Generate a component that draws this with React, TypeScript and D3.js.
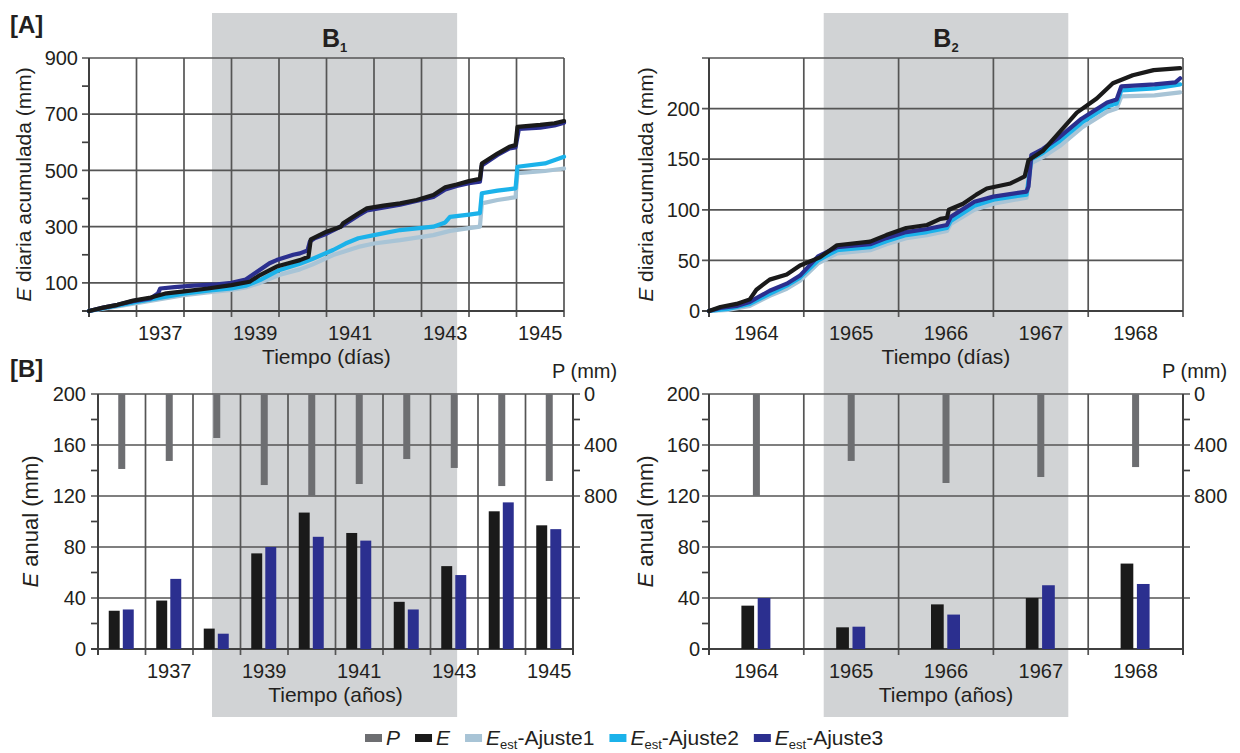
import React, { useEffect, useRef } from 'react';
import * as d3 from 'd3';

const W = 1240;
const H = 753;
const FONT = '"Liberation Sans", Arial, Helvetica, sans-serif';

// ---------- colours ----------
const C_P = '#6d6e71';
const C_E = '#1a1a1a';
const C_A1 = '#a8c4d6';
const C_A2 = '#1bb2ea';
const C_A3 = '#2b2f8f';
const C_SHADE = '#d1d3d5';
const C_GRID = '#555555';
const C_AXIS = '#404040';

// ---------- periods B1 / B2 (years) ----------
const B1_PERIOD = [1938.59, 1943.75];
const B2_PERIOD = [1965.21, 1967.79];

// ---------- [A] cumulative daily E, panel 1 (1936-1945) ----------
const A1_E: [number, number][] = [
  [1936.0, 0], [1936.3, 12], [1936.6, 22], [1936.93, 37], [1937.3, 48], [1937.63, 63], [1938.0, 70],
  [1938.5, 80], [1939.0, 92], [1939.38, 104], [1939.6, 128], [1939.95, 158], [1940.2, 170],
  [1940.44, 181], [1940.62, 193], [1940.67, 255], [1941.0, 282], [1941.3, 300], [1941.35, 312],
  [1941.67, 347], [1941.85, 365], [1942.2, 375], [1942.55, 383], [1942.9, 395], [1943.25, 413],
  [1943.5, 440], [1943.74, 450], [1944.0, 462], [1944.23, 470], [1944.27, 525], [1944.6, 560],
  [1944.85, 584], [1944.98, 590], [1945.02, 655], [1945.5, 662], [1945.8, 668], [1946.0, 676],
];
const A1_AJ3: [number, number][] = [
  [1936.0, 0], [1936.3, 12], [1936.6, 22], [1936.93, 35], [1937.3, 45], [1937.45, 62], [1937.5, 80],
  [1937.8, 85], [1938.2, 90], [1938.7, 95], [1939.0, 100], [1939.3, 112], [1939.5, 135],
  [1939.8, 170], [1939.95, 181], [1940.3, 200], [1940.44, 205], [1940.6, 215], [1940.65, 247],
  [1940.75, 259], [1941.0, 275], [1941.35, 305], [1941.67, 340], [1941.85, 358], [1942.55, 378],
  [1943.25, 406], [1943.5, 432], [1943.74, 445], [1944.0, 455], [1944.23, 460], [1944.27, 518],
  [1944.6, 555], [1944.85, 578], [1944.98, 582], [1945.05, 648], [1945.5, 652], [1945.8, 660],
  [1946.0, 670],
];
const A1_AJ2: [number, number][] = [
  [1936.0, 0], [1936.5, 16], [1937.0, 32], [1937.5, 47], [1938.0, 62], [1938.5, 72], [1939.0, 80],
  [1939.3, 90], [1939.6, 110], [1940.0, 145], [1940.44, 168], [1940.7, 185], [1941.14, 217],
  [1941.4, 240], [1941.67, 259], [1942.0, 270], [1942.55, 288], [1943.25, 300], [1943.5, 315],
  [1943.6, 335], [1944.0, 343], [1944.23, 348], [1944.27, 419], [1944.6, 428], [1944.98, 436],
  [1945.02, 513], [1945.6, 525], [1946.0, 549],
];
const A1_AJ1: [number, number][] = [
  [1936.0, 0], [1936.5, 14], [1937.0, 28], [1937.5, 42], [1938.0, 56], [1938.5, 66], [1939.0, 75],
  [1939.3, 84], [1939.6, 100], [1940.0, 128], [1940.44, 148], [1940.7, 165], [1941.14, 199],
  [1941.67, 228], [1942.0, 240], [1942.55, 252], [1943.25, 270], [1943.6, 285], [1944.0, 295],
  [1944.23, 300], [1944.27, 383], [1944.6, 395], [1944.98, 405], [1945.02, 490], [1945.6, 498],
  [1946.0, 507],
];

// ---------- [A] cumulative daily E, panel 2 (1964-1968) ----------
const A2_E: [number, number][] = [
  [1964.0, 0], [1964.12, 4], [1964.29, 7], [1964.43, 11.5], [1964.5, 21], [1964.64, 31],
  [1964.82, 36], [1964.96, 45], [1965.17, 53], [1965.35, 65], [1965.7, 68.5], [1965.87, 75],
  [1966.08, 82], [1966.3, 85], [1966.44, 91], [1966.51, 92], [1966.53, 100], [1966.68, 106],
  [1966.82, 115], [1966.93, 121], [1967.18, 126], [1967.33, 133], [1967.37, 149], [1967.52, 158],
  [1967.7, 177], [1967.88, 196], [1968.09, 210], [1968.26, 225], [1968.47, 233], [1968.69, 238],
  [1968.97, 240],
];
const A2_AJ3: [number, number][] = [
  [1964.0, 0], [1964.12, 3], [1964.29, 5], [1964.43, 9], [1964.64, 20], [1964.82, 27], [1964.96, 35],
  [1965.15, 54], [1965.35, 63], [1965.7, 66], [1965.87, 72], [1966.08, 78], [1966.3, 81],
  [1966.51, 85], [1966.55, 93], [1966.8, 108], [1967.0, 113], [1967.35, 118], [1967.37, 123],
  [1967.4, 154], [1967.52, 160], [1967.7, 172], [1967.93, 190], [1968.2, 206], [1968.3, 209],
  [1968.35, 222], [1968.7, 224], [1968.92, 226], [1968.97, 230],
];
const A2_AJ2: [number, number][] = [
  [1964.0, 0], [1964.2, 2], [1964.43, 7], [1964.64, 17], [1964.82, 25], [1964.96, 33], [1965.15, 50],
  [1965.35, 60], [1965.7, 63], [1965.87, 69], [1966.08, 75], [1966.3, 78], [1966.51, 82],
  [1966.55, 89], [1966.8, 104], [1967.0, 110], [1967.35, 115], [1967.4, 150], [1967.52, 156],
  [1967.7, 168], [1967.93, 186], [1968.2, 202], [1968.3, 205], [1968.35, 218], [1968.7, 220],
  [1968.97, 224],
];
const A2_AJ1: [number, number][] = [
  [1964.0, 0], [1964.2, 1], [1964.43, 5], [1964.64, 15], [1964.82, 22], [1964.96, 30], [1965.15, 47],
  [1965.35, 57], [1965.7, 60], [1965.87, 66], [1966.08, 72], [1966.3, 75], [1966.51, 79],
  [1966.55, 86], [1966.8, 100], [1967.0, 106], [1967.35, 112], [1967.4, 146], [1967.52, 152],
  [1967.7, 163], [1967.93, 181], [1968.2, 197], [1968.3, 200], [1968.35, 212], [1968.7, 213],
  [1968.97, 216],
];

// ---------- [B] annual values ----------
const YEARS_B1 = [1936, 1937, 1938, 1939, 1940, 1941, 1942, 1943, 1944, 1945];
const P_B1 = [588, 525, 345, 714, 800, 706, 510, 580, 722, 682];
const E_B1 = [30, 38, 16, 75, 107, 91, 37, 65, 108, 97];
const AJ3_B1 = [31, 55, 12, 80, 88, 85, 31, 58, 115, 94];

const YEARS_B2 = [1964, 1965, 1966, 1967, 1968];
const P_B2 = [800, 525, 698, 651, 573];
const E_B2 = [34, 17, 35, 40, 67];
const AJ3_B2 = [40, 17.5, 27, 50, 51];

// ---------- tick lists ----------
const YT_A1_MAJOR = [100, 300, 500, 700, 900];
const YT_A1_MINOR = [200, 400, 600, 800];
const YT_A2_MAJOR = [0, 50, 100, 150, 200];
const YT_A2_GRID = [50, 100, 150, 200, 250];
const YT_B_MAJOR = [0, 40, 80, 120, 160, 200];
const YT_B_GRID = [40, 80, 120, 160, 200];
const YT_B_MINOR = [20, 60, 100, 140, 180];
const PT_MAJOR = [0, 400, 800];
const PT_MINOR = [200, 600];
const XL_A1 = [1937, 1939, 1941, 1943, 1945];
const XL_A2 = [1964, 1965, 1966, 1967, 1968];

const LEGEND = [
  { key: 'P', color: C_P },
  { key: 'E', color: C_E },
  { key: 'Ajuste1', color: C_A1 },
  { key: 'Ajuste2', color: C_A2 },
  { key: 'Ajuste3', color: C_A3 },
];

const TICK = 7;
const TXT = '#231f20';

type Sel = d3.Selection<any, any, any, any>;

function vGrid(g: Sel, x: any, years: number[], yTop: number, yBot: number) {
  g.selectAll(null).data(years).join('line')
    .attr('x1', (d: number) => x(d)).attr('x2', (d: number) => x(d))
    .attr('y1', yTop).attr('y2', yBot + 6)
    .attr('stroke', C_GRID).attr('stroke-width', 1.7);
}

function yAxisTitle(g: Sel, xb: number, yc: number, rest: string, size: number) {
  const t = g.append('text')
    .attr('transform', `translate(${xb},${yc}) rotate(-90)`)
    .attr('text-anchor', 'middle').attr('font-size', size).attr('fill', TXT);
  t.append('tspan').attr('font-style', 'italic').text('E');
  t.append('tspan').text(rest);
}

function linePanel(root: Sel, o: any) {
  const g = root.append('g');
  const x = d3.scaleLinear().domain(o.xDomain).range([o.left, o.right]);
  const y = d3.scaleLinear().domain(o.yDomain).range([o.bottom, o.top]);
  const years = d3.range(o.xDomain[0], o.xDomain[1] + 1);
  vGrid(g, x, years, y(o.yDomain[1]), y(o.yDomain[0]));
  g.selectAll(null).data(o.yGrid).join('line')
    .attr('x1', x(o.xDomain[0]) - TICK).attr('x2', x(o.xDomain[1]))
    .attr('y1', (d: number) => y(d)).attr('y2', (d: number) => y(d))
    .attr('stroke', C_GRID).attr('stroke-width', 1.7);
  g.selectAll(null).data(o.yMinor).join('line')
    .attr('x1', x(o.xDomain[0]) - TICK).attr('x2', x(o.xDomain[0]))
    .attr('y1', (d: number) => y(d)).attr('y2', (d: number) => y(d))
    .attr('stroke', C_AXIS).attr('stroke-width', 1.7);
  g.append('line').attr('x1', x(o.xDomain[0]) - TICK).attr('x2', x(o.xDomain[1]))
    .attr('y1', y(o.yDomain[0])).attr('y2', y(o.yDomain[0]))
    .attr('stroke', C_AXIS).attr('stroke-width', 2);
  g.append('line').attr('x1', x(o.xDomain[0])).attr('x2', x(o.xDomain[0]))
    .attr('y1', y(o.yDomain[1])).attr('y2', y(o.yDomain[0]) + 6)
    .attr('stroke', C_AXIS).attr('stroke-width', 2);
  g.selectAll(null).data(o.yLabels).join('text')
    .attr('x', x(o.xDomain[0]) - o.labelGap).attr('y', (d: number) => y(d))
    .attr('dy', '0.36em').attr('text-anchor', 'end').attr('font-size', 20).attr('fill', TXT)
    .text((d: number) => String(d));
  g.selectAll(null).data(o.xLabels).join('text')
    .attr('x', (d: number) => x(d + 0.5)).attr('y', 340)
    .attr('text-anchor', 'middle').attr('font-size', 20).attr('fill', TXT)
    .text((d: number) => String(d));
  g.append('text').attr('x', (o.left + o.right) / 2).attr('y', 364)
    .attr('text-anchor', 'middle').attr('font-size', 21).attr('fill', TXT)
    .text('Tiempo (días)');
  yAxisTitle(g, o.titleX, (o.top + o.bottom) / 2, ' diaria acumulada (mm)', 21);
  const line = d3.line<[number, number]>().x(d => x(d[0])).y(d => y(d[1]));
  o.series.forEach((s: any) => {
    g.append('path').attr('d', line(s.data) as string)
      .attr('fill', 'none').attr('stroke', s.color).attr('stroke-width', 4.2)
      .attr('stroke-linejoin', 'round').attr('stroke-linecap', 'round');
  });
}

function barPanel(root: Sel, o: any) {
  const g = root.append('g');
  const x = d3.scaleLinear().domain(o.xDomain).range([o.left, o.right]);
  const y = d3.scaleLinear().domain([0, 200]).range([o.bottom, o.top]);
  const p = d3.scaleLinear().domain([0, 2000]).range([o.top, o.bottom]);
  const years = d3.range(o.xDomain[0], o.xDomain[1] + 1);
  vGrid(g, x, years, o.top, o.bottom);
  g.selectAll(null).data(YT_B_GRID).join('line')
    .attr('x1', x(o.xDomain[0]) - TICK).attr('x2', x(o.xDomain[1]) + TICK)
    .attr('y1', (d: number) => y(d)).attr('y2', (d: number) => y(d))
    .attr('stroke', C_GRID).attr('stroke-width', 1.7);
  g.selectAll(null).data(YT_B_MINOR).join('line')
    .attr('x1', x(o.xDomain[0]) - TICK).attr('x2', x(o.xDomain[0]))
    .attr('y1', (d: number) => y(d)).attr('y2', (d: number) => y(d))
    .attr('stroke', C_AXIS).attr('stroke-width', 1.7);
  g.selectAll(null).data(PT_MINOR).join('line')
    .attr('x1', x(o.xDomain[1])).attr('x2', x(o.xDomain[1]) + TICK)
    .attr('y1', (d: number) => p(d)).attr('y2', (d: number) => p(d))
    .attr('stroke', C_AXIS).attr('stroke-width', 1.7);
  g.append('line').attr('x1', x(o.xDomain[0]) - TICK).attr('x2', x(o.xDomain[1]))
    .attr('y1', y(0)).attr('y2', y(0)).attr('stroke', C_AXIS).attr('stroke-width', 2);
  g.append('line').attr('x1', x(o.xDomain[0])).attr('x2', x(o.xDomain[0]))
    .attr('y1', o.top).attr('y2', o.bottom + 6).attr('stroke', C_AXIS).attr('stroke-width', 2);
  g.append('line').attr('x1', x(o.xDomain[1])).attr('x2', x(o.xDomain[1]))
    .attr('y1', o.top).attr('y2', o.bottom + 6).attr('stroke', C_AXIS).attr('stroke-width', 2);

  const band = d3.scaleBand<string>().domain(['E', 'A3']).range(o.barRange).paddingInner(0.22);
  const rows = o.years.map((yr: number, i: number) => ({ yr, P: o.P[i], E: o.E[i], A3: o.A3[i] }));
  g.selectAll(null).data(rows).join('rect')
    .attr('x', (d: any) => x(d.yr + 0.5) - 3.5).attr('width', 7)
    .attr('y', p(0)).attr('height', (d: any) => p(d.P) - p(0)).attr('fill', C_P);
  g.selectAll(null).data(rows).join('rect')
    .attr('x', (d: any) => x(d.yr + 0.5) + (band('E') as number)).attr('width', band.bandwidth())
    .attr('y', (d: any) => y(d.E)).attr('height', (d: any) => y(0) - y(d.E)).attr('fill', C_E);
  g.selectAll(null).data(rows).join('rect')
    .attr('x', (d: any) => x(d.yr + 0.5) + (band('A3') as number)).attr('width', band.bandwidth())
    .attr('y', (d: any) => y(d.A3)).attr('height', (d: any) => y(0) - y(d.A3)).attr('fill', C_A3);

  g.selectAll(null).data(YT_B_MAJOR).join('text')
    .attr('x', x(o.xDomain[0]) - o.labelGap).attr('y', (d: number) => y(d)).attr('dy', '0.36em')
    .attr('text-anchor', 'end').attr('font-size', 20).attr('fill', TXT).text((d: number) => String(d));
  g.selectAll(null).data(PT_MAJOR).join('text')
    .attr('x', x(o.xDomain[1]) + 11).attr('y', (d: number) => p(d)).attr('dy', '0.36em')
    .attr('text-anchor', 'start').attr('font-size', 20).attr('fill', TXT).text((d: number) => String(d));
  g.append('text').attr('x', x(o.xDomain[1]) - 21).attr('y', 378).attr('font-size', 20)
    .attr('fill', TXT).text('P (mm)');
  g.selectAll(null).data(o.xLabels).join('text')
    .attr('x', (d: number) => x(d + 0.5)).attr('y', 678).attr('text-anchor', 'middle')
    .attr('font-size', 20).attr('fill', TXT).text((d: number) => String(d));
  g.append('text').attr('x', (o.left + o.right) / 2).attr('y', 702).attr('text-anchor', 'middle')
    .attr('font-size', 21).attr('fill', TXT).text('Tiempo (años)');
  yAxisTitle(g, o.titleX, (o.top + o.bottom) / 2, ' anual (mm)', 22);
}

function draw(svg: Sel) {
  svg.selectAll('*').remove();
  svg.append('rect').attr('width', W).attr('height', H).attr('fill', '#fff');

  const xA1 = d3.scaleLinear().domain([1936, 1946]).range([89, 564]);
  const xA2 = d3.scaleLinear().domain([1964, 1969]).range([709, 1183]);
  const shades = [
    { x0: xA1(B1_PERIOD[0]), x1: xA1(B1_PERIOD[1]), sub: '1' },
    { x0: xA2(B2_PERIOD[0]), x1: xA2(B2_PERIOD[1]), sub: '2' },
  ];
  svg.selectAll(null).data(shades).join('rect')
    .attr('x', d => d.x0).attr('width', d => d.x1 - d.x0)
    .attr('y', 13).attr('height', 704).attr('fill', C_SHADE);
  shades.forEach(s => {
    const t = svg.append('text').attr('x', (s.x0 + s.x1) / 2).attr('y', 47)
      .attr('text-anchor', 'middle').attr('font-weight', 'bold').attr('fill', TXT);
    t.append('tspan').attr('font-size', 25).text('B');
    t.append('tspan').attr('font-size', 13).attr('dy', 5).text(s.sub);
  });

  svg.append('text').attr('x', 10).attr('y', 33).attr('font-size', 24).attr('font-weight', 'bold')
    .attr('fill', TXT).text('[A]');
  svg.append('text').attr('x', 10).attr('y', 377).attr('font-size', 24).attr('font-weight', 'bold')
    .attr('fill', TXT).text('[B]');

  linePanel(svg, {
    xDomain: [1936, 1946], left: 89, right: 564, top: 58, bottom: 311, yDomain: [0, 900],
    yGrid: YT_A1_MAJOR, yMinor: YT_A1_MINOR, yLabels: YT_A1_MAJOR, labelGap: 11, xLabels: XL_A1,
    titleX: 31,
    series: [
      { data: A1_AJ1, color: C_A1 }, { data: A1_AJ2, color: C_A2 },
      { data: A1_AJ3, color: C_A3 }, { data: A1_E, color: C_E },
    ],
  });
  linePanel(svg, {
    xDomain: [1964, 1969], left: 709, right: 1183, top: 58, bottom: 311, yDomain: [0, 250],
    yGrid: YT_A2_GRID, yMinor: [], yLabels: YT_A2_MAJOR, labelGap: 9, xLabels: XL_A2,
    titleX: 653,
    series: [
      { data: A2_AJ1, color: C_A1 }, { data: A2_AJ2, color: C_A2 },
      { data: A2_AJ3, color: C_A3 }, { data: A2_E, color: C_E },
    ],
  });
  barPanel(svg, {
    xDomain: [1936, 1946], left: 98, right: 573, top: 394, bottom: 649, labelGap: 12,
    years: YEARS_B1, P: P_B1, E: E_B1, A3: AJ3_B1, xLabels: XL_A1, barRange: [-13, 12], titleX: 38,
  });
  barPanel(svg, {
    xDomain: [1964, 1969], left: 709, right: 1183, top: 394, bottom: 649, labelGap: 9,
    years: YEARS_B2, P: P_B2, E: E_B2, A3: AJ3_B2, xLabels: XL_A2, barRange: [-15, 14], titleX: 653,
  });

  const lg = svg.append('g');
  let lx = 365;
  const ly = 738;
  LEGEND.forEach(item => {
    lg.append('rect').attr('x', lx).attr('y', ly - 4).attr('width', 17).attr('height', 8).attr('fill', item.color);
    const t = lg.append('text').attr('x', lx + 21).attr('y', ly + 7).attr('font-size', 21).attr('fill', TXT);
    if (item.key === 'P' || item.key === 'E') {
      t.append('tspan').attr('font-style', 'italic').text(item.key);
    } else {
      t.append('tspan').attr('font-style', 'italic').text('E');
      t.append('tspan').attr('font-size', 13).attr('dy', 4).text('est');
      t.append('tspan').attr('dy', -4).text('-' + item.key);
    }
    const w = (t.node() as SVGTextElement).getComputedTextLength();
    lx = lx + 21 + w + 15;
  });
}

export default function App() {
  const ref = useRef<SVGSVGElement>(null);
  useEffect(() => {
    if (ref.current) draw(d3.select(ref.current));
  }, []);
  return (
    <svg ref={ref} width={W} height={H} fontFamily={FONT}
      style={{ position: 'absolute', left: 0, top: 0, display: 'block' }} />
  );
}
